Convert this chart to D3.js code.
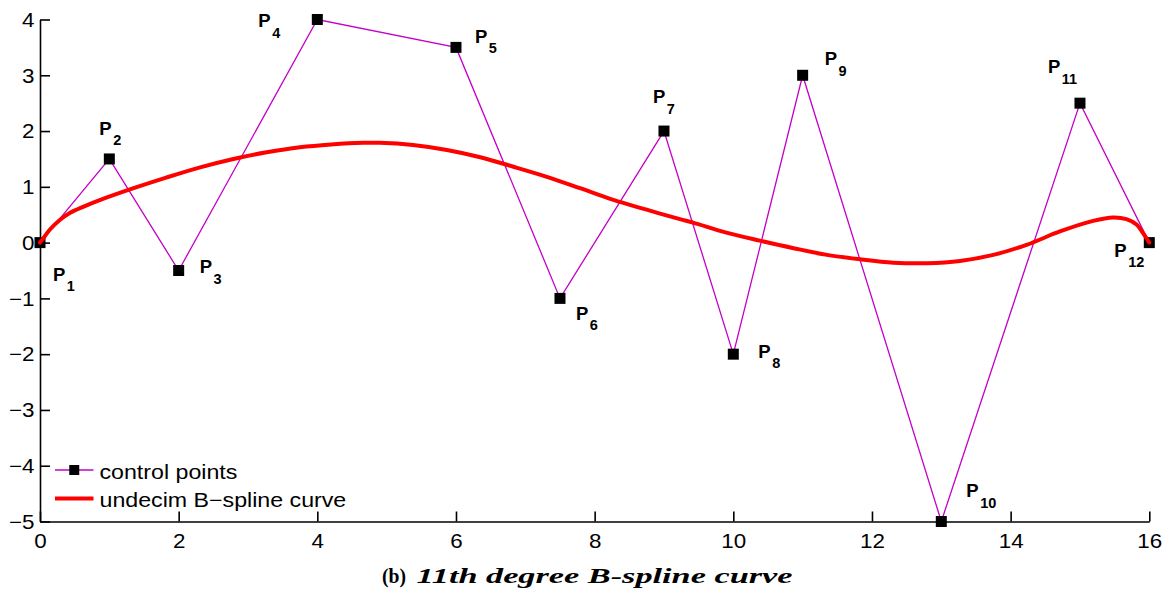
<!DOCTYPE html>
<html>
<head>
<meta charset="utf-8">
<script src="https://cdn.jsdelivr.net/npm/d3@7/dist/d3.min.js"></script>
<style>
  html, body { margin: 0; padding: 0; background: #fff; }
  svg { display: block; }
</style>
</head>
<body>
<svg id="chart" width="1173" height="590"></svg>
<script>
// ---------------- data ----------------
const ctrlX = [0, 1, 2, 4, 6, 7.5, 9, 10, 11, 13, 15, 16];
const ctrlY = [0, 1.5, -0.5, 4, 3.5, -1, 2, -2, 3, -5, 2.5, 0];
const ctrlNames = ["1","2","3","4","5","6","7","8","9","10","11","12"];

const curveX = [0, 0.05, 0.14, 0.29, 0.43, 0.63, 0.87, 1.35, 1.83, 2.31, 2.79, 3.27, 3.75, 4.2, 4.66, 4.9,
  5.38, 5.87, 6.35, 6.83, 7.31, 7.79, 8.27, 8.75, 9.23, 9.42, 9.9, 10.38, 10.87, 11.35, 11.83, 12.31,
  12.79, 13.27, 13.75, 14.23, 14.71, 15.19, 15.48, 15.67, 15.82, 15.91, 16];
const curveY = [0, 0.08, 0.23, 0.41, 0.53, 0.645, 0.765, 0.975, 1.17, 1.35, 1.5, 1.62, 1.71, 1.76, 1.79, 1.79,
  1.75, 1.66, 1.53, 1.36, 1.18, 0.975, 0.765, 0.59, 0.42, 0.358, 0.179, 0.036, -0.1, -0.22, -0.3, -0.36,
  -0.37, -0.33, -0.22, -0.04, 0.2, 0.39, 0.45, 0.42, 0.32, 0.17, 0];

const xTicks = [0, 2, 4, 6, 8, 10, 12, 14, 16];
const yTicks = [-5, -4, -3, -2, -1, 0, 1, 2, 3, 4];
const legendLabels = ["control points", "undecim B\u2212spline curve"];
const titlePrefix = "(b)";
const titleMain = "11th degree B-spline curve";

// ---------------- layout (presentation only) ----------------
const W = 1173, H = 590;
const margin = { left: 40, top: 19.5, right: 23.7, bottom: 68.5 };
// label offsets in pixels relative to each control point (left of "P", baseline)
const labelOffsets = [[13, 38], [-10, -24], [21, 2.5], [-59, 7.5], [19, -4.4], [16, 21.5],
  [-11, -28], [25, 3.7], [22, -10], [25, -24.5], [-32, -30], [-35, 14]];
const MAGENTA = "#c400c8";
const RED = "#ff0000";

const svg = d3.select("#chart");
const x = d3.scaleLinear().domain([0, 16]).range([margin.left, W - margin.right]);
const y = d3.scaleLinear().domain([-5, 4]).range([H - margin.bottom, margin.top]);

const fmt = d => d < 0 ? "\u2212" + Math.abs(d) : String(d);

// axes
const gx = svg.append("g")
  .attr("transform", `translate(0,${y(-5)})`)
  .call(d3.axisBottom(x).tickValues(xTicks).tickFormat(fmt).tickSize(-10).tickSizeOuter(0).tickPadding(12));
const gy = svg.append("g")
  .attr("transform", `translate(${x(0)},0)`)
  .call(d3.axisLeft(y).tickValues(yTicks).tickFormat(fmt).tickSize(-10).tickSizeOuter(0).tickPadding(5));

[gx, gy].forEach(g => {
  g.select(".domain").attr("stroke", "#000").attr("stroke-width", 1.6);
  g.selectAll(".tick line").attr("stroke", "#000").attr("stroke-width", 1.6);
  g.selectAll(".tick text")
    .attr("fill", "#000")
    .style("font-family", "'Liberation Sans', Arial, Helvetica, sans-serif")
    .style("font-size", "20px")
    .attr("transform", "scale(1.12,1)");
});
gy.selectAll(".tick text").attr("dy", "0.34em");

// control polygon
const ctrl = ctrlX.map((v, i) => [v, ctrlY[i]]);
svg.append("path")
  .datum(ctrl)
  .attr("fill", "none")
  .attr("stroke", MAGENTA)
  .attr("stroke-width", 1.3)
  .attr("d", d3.line().x(d => x(d[0])).y(d => y(d[1])));

const MS = 11;
svg.append("g").selectAll("rect")
  .data(ctrl)
  .join("rect")
  .attr("x", d => x(d[0]) - MS / 2)
  .attr("y", d => y(d[1]) - MS / 2)
  .attr("width", MS).attr("height", MS)
  .attr("fill", "#000");

// curve
const curve = curveX.map((v, i) => [v, curveY[i]]);
svg.append("path")
  .datum(curve)
  .attr("fill", "none")
  .attr("stroke", RED)
  .attr("stroke-width", 4)
  .attr("stroke-linejoin", "round")
  .attr("stroke-linecap", "round")
  .attr("d", d3.line().x(d => x(d[0])).y(d => y(d[1])).curve(d3.curveCatmullRom.alpha(0.5)));

// point labels
const lab = svg.append("g")
  .style("font-family", "'Liberation Sans', Arial, Helvetica, sans-serif")
  .style("font-weight", "bold")
  .attr("fill", "#000");
ctrl.forEach((d, i) => {
  const t = lab.append("text")
    .attr("x", x(d[0]) + labelOffsets[i][0])
    .attr("y", y(d[1]) + labelOffsets[i][1])
    .style("font-size", "18.5px");
  t.append("tspan").text("P");
  t.append("tspan").attr("dx", 1.5).attr("dy", 10.5).style("font-size", "14.5px").text(ctrlNames[i]);
});

// legend
const lg = svg.append("g");
const lx0 = 55, lx1 = 93.5, ly0 = 470, ly1 = 498.5;
lg.append("line").attr("x1", lx0).attr("x2", lx1).attr("y1", ly0).attr("y2", ly0)
  .attr("stroke", MAGENTA).attr("stroke-width", 1.3);
lg.append("rect").attr("x", (lx0 + lx1) / 2 - 5).attr("y", ly0 - 5).attr("width", 10).attr("height", 10).attr("fill", "#000");
lg.append("line").attr("x1", lx0).attr("x2", lx1).attr("y1", ly1).attr("y2", ly1)
  .attr("stroke", RED).attr("stroke-width", 4);
[[ly0, legendLabels[0]], [ly1, legendLabels[1]]].forEach(([yy, txt]) => {
  lg.append("text")
    .attr("transform", `translate(99.5,${yy + 8.8}) scale(1.16,1)`)
    .style("font-family", "'Liberation Sans', Arial, Helvetica, sans-serif")
    .style("font-size", "20px")
    .attr("fill", "#000")
    .text(txt);
});

// title
const tp = svg.append("text")
  .attr("x", 382).attr("y", 583)
  .style("font-family", "'Liberation Serif', 'Times New Roman', serif")
  .style("font-weight", "bold")
  .style("font-size", "22px")
  .attr("fill", "#000")
  .text(titlePrefix);
tp.attr("textLength", 24).attr("lengthAdjust", "spacingAndGlyphs");
const tm = svg.append("text")
  .attr("x", 416.5).attr("y", 583)
  .style("font-family", "'Liberation Serif', 'Times New Roman', serif")
  .style("font-weight", "bold")
  .style("font-style", "italic")
  .style("font-size", "21px")
  .attr("fill", "#000")
  .text(titleMain);
tm.attr("textLength", 376).attr("lengthAdjust", "spacingAndGlyphs");
</script>
</body>
</html>
